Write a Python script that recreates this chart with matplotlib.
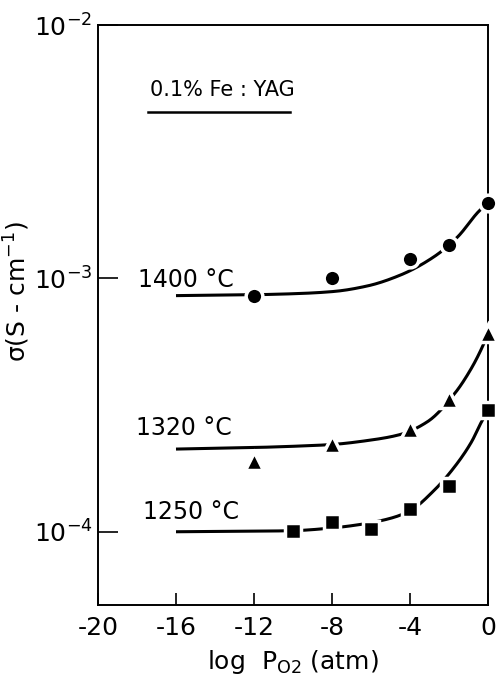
import numpy as np
import matplotlib
matplotlib.use('Agg')
import matplotlib.pyplot as plt

# measured points, log P_O2 (atm) vs sigma (S/cm)
x_1400 = [-12, -8, -4, -2, 0]
s_1400 = [8.55e-4, 1.0e-3, 1.19e-3, 1.36e-3, 1.99e-3]
x_1320 = [-12, -8, -4, -2, 0]
s_1320 = [1.91e-4, 2.21e-4, 2.54e-4, 3.33e-4, 6.07e-4]
x_1250 = [-10, -8, -6, -4, -2, 0]
s_1250 = [1.01e-4, 1.09e-4, 1.03e-4, 1.23e-4, 1.52e-4, 3.02e-4]

# hand-drawn fit curves
cx_1400 = [-16, -12, -9.6, -7.9, -6.2, -4.5, -2.75, -1.55, -0.5, 0]
c_1400 = [8.55e-4, 8.62e-4, 8.72e-4, 8.88e-4, 9.33e-4, 1.03e-3, 1.22e-3, 1.46e-3, 1.83e-3, 1.99e-3]
cx_1320 = [-16, -12, -9.6, -8, -6.2, -4.5, -3.1, -1.7, -0.85, -0.25, 0]
c_1320 = [2.12e-4, 2.15e-4, 2.18e-4, 2.21e-4, 2.29e-4, 2.42e-4, 2.72e-4, 3.52e-4, 4.42e-4, 5.45e-4, 6.07e-4]
cx_1250 = [-16, -12, -10, -8, -6.5, -5, -4, -2.75, -1.7, -0.85, -0.35, 0]
c_1250 = [1.0e-4, 1.005e-4, 1.01e-4, 1.035e-4, 1.07e-4, 1.13e-4, 1.21e-4, 1.46e-4, 1.81e-4, 2.26e-4, 2.70e-4, 3.02e-4]

labels = ['1400 °C', '1320 °C', '1250 °C']
xticks = [-20, -16, -12, -8, -4, 0]

plt.rcParams['font.family'] = 'DejaVu Sans'
plt.rcParams['mathtext.default'] = 'regular'


def pchip(xs, ys, n=300):
    # monotone cubic hermite through the read points (in log space)
    x = np.asarray(xs, float)
    y = np.log10(ys)
    h = np.diff(x)
    d = np.diff(y) / h
    m = np.zeros_like(y)
    for i in range(1, len(x) - 1):
        if d[i - 1] * d[i] > 0:
            w1 = 2 * h[i] + h[i - 1]
            w2 = h[i] + 2 * h[i - 1]
            m[i] = (w1 + w2) / (w1 / d[i - 1] + w2 / d[i])
    m[0] = d[0]
    m[-1] = d[-1]
    xf = np.linspace(x[0], x[-1], n)
    k = np.clip(np.searchsorted(x, xf) - 1, 0, len(x) - 2)
    t = (xf - x[k]) / h[k]
    h00 = 2 * t**3 - 3 * t**2 + 1
    h10 = t**3 - 2 * t**2 + t
    h01 = -2 * t**3 + 3 * t**2
    h11 = t**3 - t**2
    yf = h00 * y[k] + h10 * h[k] * m[k] + h01 * y[k + 1] + h11 * h[k] * m[k + 1]
    return xf, 10 ** yf


fig = plt.figure(figsize=(5, 6.78), dpi=100)
ax = fig.add_axes([0.196, 0.1077, 0.78, 0.8554])

for cx, c in [(cx_1400, c_1400), (cx_1320, c_1320), (cx_1250, c_1250)]:
    xf, yf = pchip(cx, c)
    ax.plot(xf, yf, color='black', lw=2.2, zorder=2, solid_capstyle='butt')

mk = dict(color='black', linestyle='none', markeredgecolor='white',
          markeredgewidth=2.5, zorder=3, clip_on=False)
ax.plot(x_1400, s_1400, marker='o', markersize=12, **mk)
ax.plot(x_1320, s_1320, marker='^', markersize=13, **mk)
ax.plot(x_1250, s_1250, marker='s', markersize=11.5, **mk)

ax.set_yscale('log')
ax.set_xlim(-20, 0)
ax.set_ylim(10 ** -4.289, 1e-2)
ax.set_xticks(xticks)
ax.set_xticklabels([str(t) for t in xticks], fontsize=18)
ax.set_yticks([1e-4, 1e-3, 1e-2])
ax.set_yticklabels(['10$^{-4}$', '10$^{-3}$', '10$^{-2}$'], fontsize=18)
ax.minorticks_off()
ax.tick_params(axis='x', direction='in', length=8.5, width=1.2, pad=8)
ax.tick_params(axis='y', direction='in', length=14.5, width=1.2, pad=4)
for s in ax.spines.values():
    s.set_linewidth(1.4)

ax.text(-17.95, 9.85e-4, labels[0], fontsize=17, va='center')
ax.text(-18.05, 2.56e-4, labels[1], fontsize=17, va='center')
ax.text(-17.7, 1.20e-4, labels[2], fontsize=17, va='center')

ax.text(-17.35, 5.53e-3, '0.1% Fe : YAG', fontsize=15, va='center')
ax.plot([-17.44, -10.15], [4.54e-3, 4.54e-3], color='black', lw=1.8)

ax.set_ylabel('σ(S - cm$^{-1}$)', fontsize=18)
ax.yaxis.set_label_coords(-0.169, 0.54)
ax.set_xlabel('log  P$_{O2}$ (atm)', fontsize=18, labelpad=6)

fig.savefig('out.png', dpi=100)
